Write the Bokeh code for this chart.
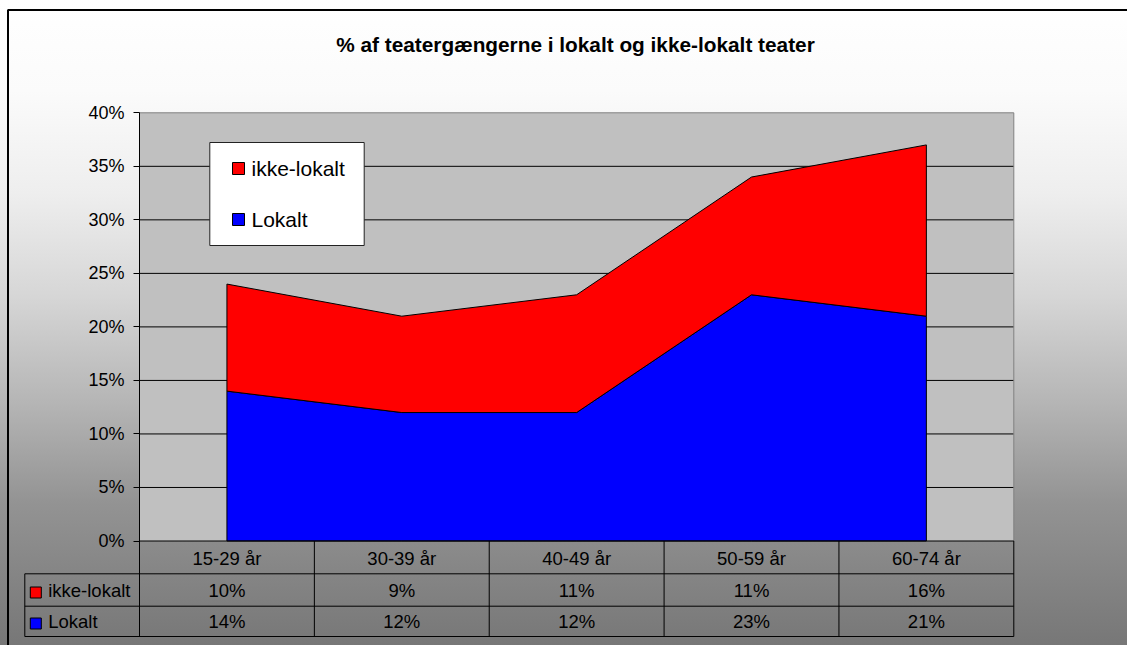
from bokeh.plotting import figure
from bokeh.models import Range1d, LinearAxis, FixedTicker, NumeralTickFormatter, Label
from bokeh.core.properties import value
from bokeh.embed import file_html
from bokeh.resources import INLINE

# ---------------- data ----------------
categories = ["15-29 år", "30-39 år", "40-49 år", "50-59 år", "60-74 år"]
lokalt = [14, 12, 12, 23, 21]
ikke_lokalt = [10, 9, 11, 11, 16]
series_names = ["ikke-lokalt", "Lokalt"]
series_colors = ["#FF0000", "#0000FF"]
y_ticks = [0, 5, 10, 15, 20, 25, 30, 35, 40]
title_text = "% af teatergængerne i lokalt og ikke-lokalt teater"

# ---------------- layout helpers (page pixels -> data) ----------------
W, H = 1127, 645
PAGE = 0
PX_X = 174.86
PX_Y = 1070.5


def xd(px):
    return -0.5 + (px - 139.0) / PX_X


def yd(py):
    return (540.5 - py) / PX_Y


FONT = value("Liberation Sans")
n = len(categories)
xs = list(range(n))
low = [v / 100 for v in lokalt]
top = [(a + b) / 100 for a, b in zip(lokalt, ikke_lokalt)]
ymax = max(y_ticks) / 100

p = figure(width=W, height=H, output_backend="svg", toolbar_location=None,
           x_range=Range1d(xd(PAGE), xd(PAGE + W)),
           y_range=Range1d(yd(PAGE + H), yd(PAGE)),
           x_axis_location=None, y_axis_location=None, min_border=0,
           outline_line_color=None)
p.background_fill_color = None
p.border_fill_color = None
p.grid.visible = False
p.styles = {"background": "linear-gradient(to bottom, #ffffff 0%, #fbfbfb 14%, "
                          "#eeeeee 30%, #d6d6d6 46%, #b6b6b6 62%, #939393 78%, #777777 100%)"}

# plot area
p.quad(left=-0.5, right=n - 0.5, bottom=0, top=ymax, fill_color="#C0C0C0", line_color=None)
gy = [t / 100 for t in y_ticks[1:-1]]
p.segment(x0=[-0.5] * len(gy), x1=[n - 0.5] * len(gy), y0=gy, y1=gy,
          line_color="#000000", line_width=1)

# stacked areas
r_lok = p.patch(xs + xs[::-1], low + [0] * n, fill_color=series_colors[1],
                line_color="black", line_width=1)
r_ikke = p.patch(xs + xs[::-1], top + low[::-1], fill_color=series_colors[0],
                 line_color="black", line_width=1)

# plot area border (top/right gray) and bottom black
p.line([-0.5, n - 0.5, n - 0.5], [ymax, ymax, 0], line_color="#808080", line_width=1)
p.line([-0.5, n - 0.5], [0, 0], line_color="black", line_width=1)

# y axis
yaxis = LinearAxis(ticker=FixedTicker(ticks=[t / 100 for t in y_ticks]),
                   formatter=NumeralTickFormatter(format="0%"),
                   fixed_location=-0.5, bounds=(yd(636), ymax),
                   axis_line_color="black", major_tick_line_color="black",
                   major_tick_out=6, major_tick_in=0, minor_tick_line_color=None,
                   major_label_text_font="Liberation Sans",
                   major_label_text_font_size="18px",
                   major_label_text_color="black",
                   major_label_standoff=9)
p.add_layout(yaxis, "left")

# data table
row_lines = [yd(573.3), yd(605.7), yd(636.0)]
left_col = xd(24.3)
p.segment(x0=[left_col] * 3, x1=[n - 0.5] * 3, y0=row_lines, y1=row_lines,
          line_color="black", line_width=1)
vx = [k - 0.5 for k in range(1, n + 1)]
p.segment(x0=vx, x1=vx, y0=[0] * n, y1=[row_lines[-1]] * n, line_color="black", line_width=1)
p.segment(x0=[left_col], x1=[left_col], y0=[row_lines[0]], y1=[row_lines[-1]],
          line_color="black", line_width=1)

tkw = dict(text_font=FONT, text_font_size=value("18.5px"), text_color="black",
           text_baseline="middle")
p.text(x=xs, y=[yd(557.5)] * n, text=categories, text_align="center", **tkw)
p.text(x=xs, y=[yd(590)] * n, text=[f"{v}%" for v in ikke_lokalt], text_align="center", **tkw)
p.text(x=xs, y=[yd(621)] * n, text=[f"{v}%" for v in lokalt], text_align="center", **tkw)
p.scatter(x=[xd(35.3)] * 2, y=[yd(592), yd(623)], marker="square", size=11,
          fill_color=series_colors, line_color="black", line_width=1)
p.text(x=[xd(47.7)] * 2, y=[yd(590), yd(621)], text=series_names, text_align="left", **tkw)

# legend box
p.quad(left=xd(209.3), right=xd(363.7), bottom=yd(245), top=yd(142),
       fill_color="white", line_color="#222222", line_width=1)
p.scatter(x=[xd(238)] * 2, y=[yd(168), yd(219)], marker="square", size=12,
          fill_color=series_colors, line_color="black", line_width=1)
p.text(x=[xd(251)] * 2, y=[yd(168), yd(219)], text=series_names, text_align="left",
       text_font=FONT, text_font_size=value("21px"), text_color="black",
       text_baseline="middle")

# title
p.add_layout(Label(x=xd(575), y=yd(44), text=title_text, text_align="center",
                   text_baseline="middle", text_font="Liberation Sans",
                   text_font_style="bold", text_font_size="20.8px", text_color="black"))

# chart outer border (top and left edges of the chart box)
p.line([xd(7.5), xd(7.5), xd(W + 10)], [yd(H + 10), yd(9.5), yd(9.5)],
       line_color="black", line_width=2)

open("out.html", "w").write(file_html(p, INLINE))
